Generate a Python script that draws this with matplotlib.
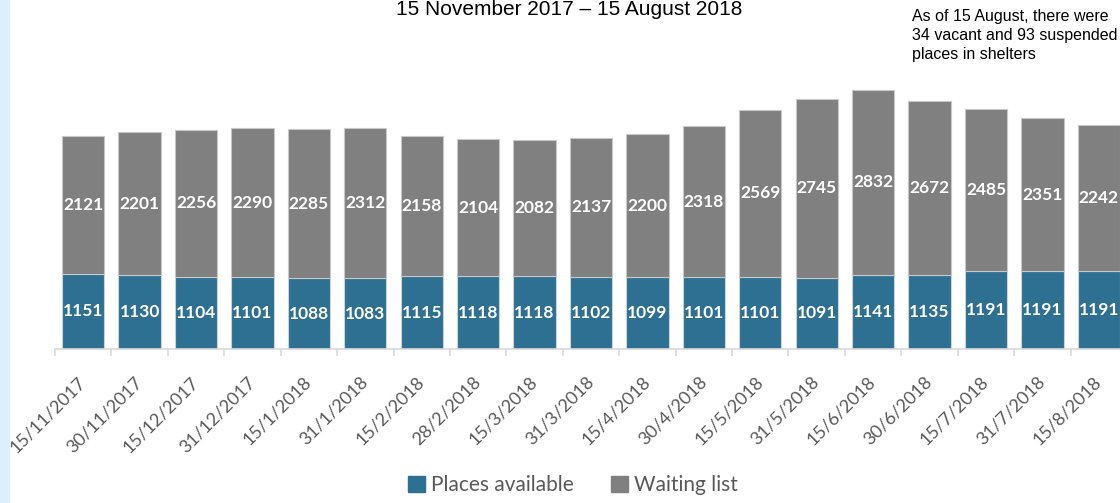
import matplotlib
matplotlib.use("Agg")
import matplotlib.pyplot as plt
import matplotlib.transforms as mtransforms
from matplotlib.patches import Rectangle, Patch
import numpy as np

dates = ["15/11/2017", "30/11/2017", "15/12/2017", "31/12/2017", "15/1/2018",
         "31/1/2018", "15/2/2018", "28/2/2018", "15/3/2018", "31/3/2018",
         "15/4/2018", "30/4/2018", "15/5/2018", "31/5/2018", "15/6/2018",
         "30/6/2018", "15/7/2018", "31/7/2018", "15/8/2018"]
places = [1151, 1130, 1104, 1101, 1088, 1083, 1115, 1118, 1118, 1102,
          1099, 1101, 1101, 1091, 1141, 1135, 1191, 1191, 1191]
waiting = [2121, 2201, 2256, 2290, 2285, 2312, 2158, 2104, 2082, 2137,
           2200, 2318, 2569, 2745, 2832, 2672, 2485, 2351, 2242]

blue = "#2e7091"
grey = "#808080"
txt = "#595959"
font = "Lato"

W, H = 1120, 503
fig = plt.figure(figsize=(W / 100, H / 100), dpi=100)

# light blue strip on the left edge
fig.patches.append(Rectangle((0, 0), 9 / W, 1, transform=fig.transFigure,
                             color="#ddeefc", zorder=0))

ax = fig.add_axes([55 / W, 1 - 349 / H, 1072 / W, 319 / H])
x = np.arange(len(dates))
ax.bar(x, places, width=0.75, color=blue, edgecolor="#c8d3da", linewidth=0.8)
ax.bar(x, waiting, width=0.75, bottom=places, color=grey,
       edgecolor="#c8c8c8", linewidth=0.8)

for i in range(len(dates)):
    ax.text(x[i], places[i] / 2, str(places[i]), ha="center", va="center",
            color="white", fontsize=12.5, fontweight="bold", family=font)
    ax.text(x[i], places[i] + waiting[i] / 2, str(waiting[i]), ha="center",
            va="center", color="white", fontsize=12.5, fontweight="bold", family=font)

ax.set_xlim(-0.5, len(dates) - 0.5)
ax.set_ylim(0, 4893)
for s in ["top", "right", "left"]:
    ax.spines[s].set_visible(False)
ax.spines["bottom"].set_color("#d9d9d9")
ax.spines["bottom"].set_linewidth(1.2)
ax.set_yticks([])

ax.set_xticks(x)
ax.set_xticklabels(dates, rotation=45, ha="right", va="center",
                   rotation_mode="anchor", fontsize=13, color=txt, family=font)
ax.tick_params(axis="x", which="major", length=0, pad=22)
shift = mtransforms.ScaledTranslation(0 / 100, 0, fig.dpi_scale_trans)
for lab in ax.get_xticklabels():
    lab.set_transform(lab.get_transform() + shift)
ax.set_xticks(np.arange(-0.5, len(dates), 1), minor=True)
ax.tick_params(axis="x", which="minor", length=5, width=1.2, color="#d9d9d9")

fig.text(569 / W, 1 - 15 / H, "15 November 2017 \u2013 15 August 2018",
         ha="center", va="baseline", fontsize=15, family="Liberation Sans")
fig.text(912 / W, 1 - 9 / H,
         "As of 15 August, there were\n34 vacant and 93 suspended\nplaces in shelters",
         ha="left", va="top", fontsize=11.5, family="Liberation Sans", linespacing=1.33)

handles = [Patch(color=blue), Patch(color=grey)]
fig.legend(handles, ["Places available", "Waiting list"], loc="center",
           bbox_to_anchor=(573 / W, 1 - 485 / H), ncol=2, frameon=False,
           prop={"family": font, "size": 15}, labelcolor=txt,
           handlelength=0.8, handleheight=0.8, handletextpad=0.3, columnspacing=1.8)

fig.savefig("out.png", dpi=100)
